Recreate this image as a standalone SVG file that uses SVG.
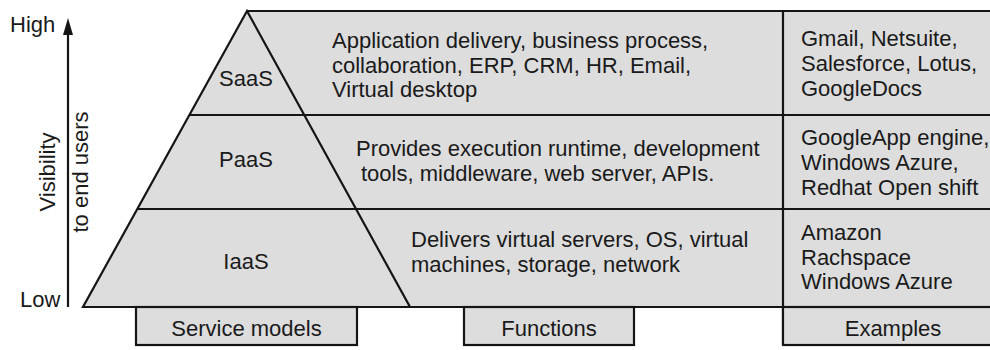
<svg xmlns="http://www.w3.org/2000/svg" width="990" height="350" viewBox="0 0 990 350">
  <defs>
    <style>
      .band { fill: #dddddd; stroke: none; }
      .ln { fill: none; stroke: #151515; stroke-width: 2.2; stroke-linejoin: miter; }
      .box { fill: #dddddd; stroke: #151515; stroke-width: 2.2; }
      .head { fill: #151515; }
      text { font-family: "Liberation Sans", Arial, sans-serif; font-size: 22px; fill: #1a1a1a; }
      .mid { text-anchor: middle; }
    </style>
  </defs>

  <!-- shaded band behind the layers -->
  <polygon class="band" points="247,11 992,11 992,307 83,307"/>

  <!-- layer outlines -->
  <g id="connectors">
    <polygon class="ln" points="247,11 83,307 410,307"/>
    <line class="ln" x1="247" y1="11" x2="992" y2="11"/>
    <line class="ln" x1="189" y1="115" x2="992" y2="115"/>
    <line class="ln" x1="137" y1="209" x2="992" y2="209"/>
    <line class="ln" x1="83" y1="307" x2="992" y2="307"/>
    <line class="ln" x1="783" y1="11" x2="783" y2="345"/>
    <!-- visibility axis -->
    <line class="ln" x1="68" y1="307" x2="68" y2="30"/>
    <path class="head" d="M68,18 L73,35 L63,35 Z"/>
  </g>

  <g id="axis">
    <text x="10" y="32">High</text>
    <text x="20" y="307">Low</text>
    <text class="mid" transform="translate(55,172) rotate(-90)">Visibility</text>
    <text class="mid" transform="translate(88,172) rotate(-90)">to end users</text>
  </g>

  <g id="saas">
    <text class="mid" x="246" y="86">SaaS</text>
    <text x="332" y="48">Application delivery, business process,</text>
    <text x="332" y="72.5">collaboration, ERP, CRM, HR, Email,</text>
    <text x="332" y="97">Virtual desktop</text>
    <text x="801" y="46">Gmail, Netsuite,</text>
    <text x="801" y="71">Salesforce, Lotus,</text>
    <text x="801" y="96">GoogleDocs</text>
  </g>

  <g id="paas">
    <text class="mid" x="246" y="167">PaaS</text>
    <text x="356" y="156">Provides execution runtime, development</text>
    <text x="361" y="181">tools, middleware, web server, APIs.</text>
    <text x="801" y="145">GoogleApp engine,</text>
    <text x="801" y="170">Windows Azure,</text>
    <text x="801" y="195">Redhat Open shift</text>
  </g>

  <g id="iaas">
    <text class="mid" x="246" y="269">IaaS</text>
    <text x="411" y="247">Delivers virtual servers, OS, virtual</text>
    <text x="411" y="272">machines, storage, network</text>
    <text x="801" y="240">Amazon</text>
    <text x="801" y="265">Rachspace</text>
    <text x="801" y="289">Windows Azure</text>
  </g>

  <g id="service-models">
    <rect class="box" x="136" y="307" width="221" height="38"/>
    <text class="mid" x="246.5" y="336">Service models</text>
  </g>

  <g id="functions">
    <rect class="box" x="464" y="307" width="170" height="38"/>
    <text class="mid" x="549" y="336">Functions</text>
  </g>

  <g id="examples">
    <rect class="box" x="783" y="307" width="210" height="38"/>
    <text class="mid" x="893" y="336">Examples</text>
  </g>
</svg>
